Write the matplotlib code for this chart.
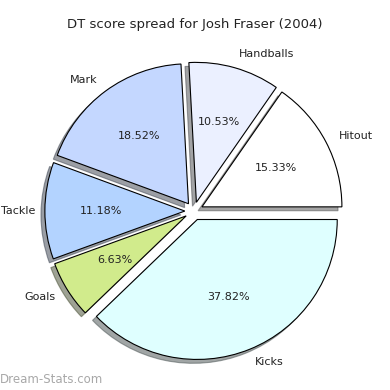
import matplotlib
matplotlib.use("Agg")
import matplotlib.pyplot as plt

# DT score spread
labels = ["Hitout", "Handballs", "Mark", "Tackle", "Goals", "Kicks"]
shares = [15.33, 10.53, 18.52, 11.18, 6.63, 37.82]
colors = ["#ffffff", "#ebf0ff", "#c4d7ff", "#b3d3ff", "#d1eb8c", "#dfffff"]

fig = plt.figure(figsize=(3.9, 3.9), dpi=100)
ax = fig.add_axes([0.0487, 0.0103, 0.897, 0.897])

wedges, texts, autotexts = ax.pie(
    shares,
    labels=labels,
    colors=colors,
    explode=[0.065] * len(shares),
    autopct="%1.2f%%",
    pctdistance=0.6,
    labeldistance=1.1,
    shadow=True,
    startangle=0,
    counterclock=True,
    wedgeprops={"edgecolor": "black", "linewidth": 0.8},
    textprops={"fontsize": 8, "color": "#222222"},
)

# keep the far-left label inside the figure
for t in texts:
    x, y = t.get_position()
    if x < -1.1:
        t.set_position((x + 0.035, y))

ax.set_xlim(-1.25, 1.25)
ax.set_ylim(-1.25, 1.25)
ax.set_aspect("equal")
ax.axis("off")

fig.text(0.5, 0.936, "DT score spread for Josh Fraser (2004)",
         ha="center", va="center", fontsize=9.5, color="#222222")
fig.text(0.0, 0.026, "Dream-Stats.com", ha="left", va="center",
         fontsize=8.5, color="#a8a8a8")

fig.savefig("out.png", dpi=100)
